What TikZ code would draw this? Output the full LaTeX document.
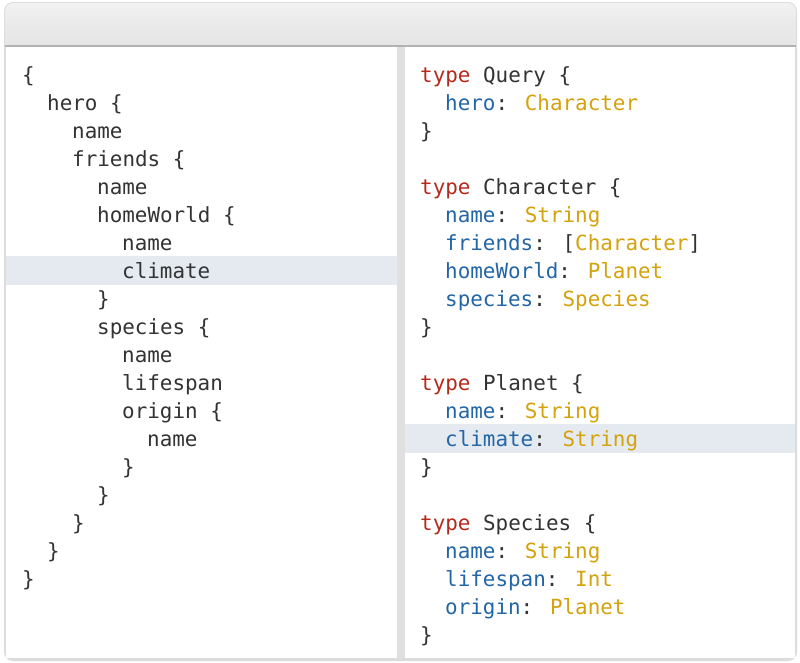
\documentclass[tikz,border=0pt]{standalone}
\usepackage{fontspec}
\newfontfamily\codefont{DejaVu Sans Mono}
\definecolor{kw}{HTML}{B52A1C}
\definecolor{fld}{HTML}{2366A8}
\definecolor{typ}{HTML}{D4A20C}
\definecolor{txt}{HTML}{333333}
\definecolor{hl}{HTML}{E5EAF1}
\definecolor{frame}{HTML}{DCDCDC}
\begin{document}
\begin{tikzpicture}[x=1pt,y=-1pt,
  code/.style={anchor=base west,inner sep=0pt,font=\codefont\fontsize{20.9}{24}\selectfont,text=txt}]
\useasboundingbox (0,0) rectangle (800,662);
\fill[white] (0,0) rectangle (800,662);
% window frame
\fill[frame, rounded corners=9pt] (4,2) rectangle (797,661);
\shade[top color=black!5, bottom color=black!10, rounded corners=8pt] (5,3) rectangle (796,30);
\shade[top color=black!8, bottom color=black!10] (5,20) rectangle (796,45);
\fill[black!30] (5,45) rectangle (796,46.5);
\fill[white] (6,46.5) rectangle (397,658);
\fill[black!12] (397,46.5) rectangle (405,658);
\fill[white] (405,46.5) rectangle (795,658);
% highlights
\fill[hl] (6,256) rectangle (397,284.5);
\fill[hl] (405,424) rectangle (795,452.5);
% left query
\node[code] (l1)  at (22,82)  {\{};
\node[code] (l2)  at (47,110) {hero \{};
\node[code] (l3)  at (72,138) {name};
\node[code] (l4)  at (72,166) {friends \{};
\node[code] (l5)  at (97,194) {name};
\node[code] (l6)  at (97,222) {homeWorld \{};
\node[code] (l7)  at (122,250) {name};
\node[code] (l8)  at (122,278) {climate};
\node[code] (l9)  at (97,306) {\}};
\node[code] (l10) at (97,334) {species \{};
\node[code] (l11) at (122,362) {name};
\node[code] (l12) at (122,390) {lifespan};
\node[code] (l13) at (122,418) {origin \{};
\node[code] (l14) at (147,446) {name};
\node[code] (l15) at (122,474) {\}};
\node[code] (l16) at (97,502) {\}};
\node[code] (l17) at (72,530) {\}};
\node[code] (l18) at (47,558) {\}};
\node[code] (l19) at (22,586) {\}};
% right schema
\node[code] (r1)  at (420,82)  {\textcolor{kw}{type} Query \{};
\node[code] (r2)  at (445,110) {\textcolor{fld}{hero}: \textcolor{typ}{Character}};
\node[code] (r3)  at (420,138) {\}};
\node[code] (r5)  at (420,194) {\textcolor{kw}{type} Character \{};
\node[code] (r6)  at (445,222) {\textcolor{fld}{name}: \textcolor{typ}{String}};
\node[code] (r7)  at (445,250) {\textcolor{fld}{friends}: [\textcolor{typ}{Character}]};
\node[code] (r8)  at (445,278) {\textcolor{fld}{homeWorld}: \textcolor{typ}{Planet}};
\node[code] (r9)  at (445,306) {\textcolor{fld}{species}: \textcolor{typ}{Species}};
\node[code] (r10) at (420,334) {\}};
\node[code] (r12) at (420,390) {\textcolor{kw}{type} Planet \{};
\node[code] (r13) at (445,418) {\textcolor{fld}{name}: \textcolor{typ}{String}};
\node[code] (r14) at (445,446) {\textcolor{fld}{climate}: \textcolor{typ}{String}};
\node[code] (r15) at (420,474) {\}};
\node[code] (r17) at (420,530) {\textcolor{kw}{type} Species \{};
\node[code] (r18) at (445,558) {\textcolor{fld}{name}: \textcolor{typ}{String}};
\node[code] (r19) at (445,586) {\textcolor{fld}{lifespan}: \textcolor{typ}{Int}};
\node[code] (r20) at (445,614) {\textcolor{fld}{origin}: \textcolor{typ}{Planet}};
\node[code] (r21) at (420,642) {\}};
\end{tikzpicture}
\end{document}
